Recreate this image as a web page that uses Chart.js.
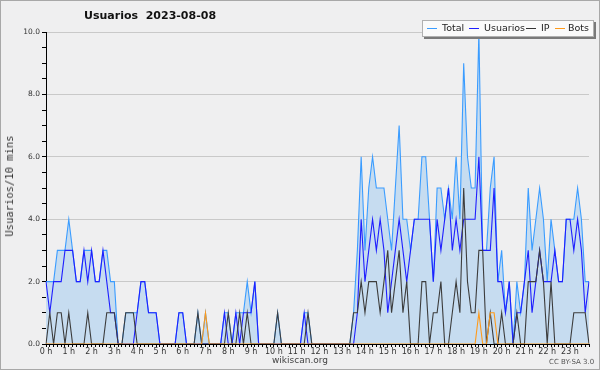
<!DOCTYPE html>
<html>
<head>
<meta charset="utf-8">
<script src="https://cdn.jsdelivr.net/npm/chart.js@4.4.0/dist/chart.umd.min.js"></script>
<style>
  html, body { margin: 0; padding: 0; background: #fff; }
  #wrap { position: relative; width: 600px; height: 370px; background: #efeff0; overflow: hidden; font-family: "DejaVu Sans", sans-serif; }
  #wrap canvas { position: absolute; left: 0; top: 0; }
  .frame { position: absolute; left: 0; top: 0; width: 600px; height: 370px; box-sizing: border-box; border: 1px solid #a8a8a8; pointer-events: none; }
  .title { position: absolute; left: 84px; top: 9px; font-weight: bold; font-size: 11px; color: #111; white-space: pre; }
  .ytitle { position: absolute; left: 9px; top: 186px; transform: translate(-50%, -50%) rotate(-90deg); font-family: "DejaVu Sans Mono", monospace; font-size: 10.5px; color: #333; white-space: nowrap; }
  .legend { position: absolute; left: 422px; top: 20px; width: 170px; height: 15px; background: #fafafa; border: 1px solid #b0b0b0; box-shadow: 2px 2px 0 #7a7a7a; font-size: 9.5px; color: #222; }
  .legend span { position: absolute; top: 1px; white-space: nowrap; }
  .legend i { position: absolute; top: 7px; width: 10px; height: 1px; }
  .foot { position: absolute; left: 0; width: 600px; top: 355px; text-align: center; font-size: 9px; color: #444; }
  .cc { position: absolute; left: 549px; top: 358px; font-size: 7px; color: #555; white-space: nowrap; }
</style>
</head>
<body>
<div id="wrap">
  <canvas id="chart" width="600" height="370"></canvas>
  <div class="title">Usuarios  2023-08-08</div>
  <div class="ytitle">Usuarios/10 mins</div>
  <div class="legend">
    <i style="left:4px;background:#3a9cff"></i><span style="left:19px">Total</span>
    <i style="left:46px;background:#1f1fff"></i><span style="left:61px">Usuarios</span>
    <i style="left:103px;background:#333"></i><span style="left:118px">IP</span>
    <i style="left:132px;background:#ff9a1a"></i><span style="left:145px">Bots</span>
  </div>
  <div class="foot">wikiscan.org</div>
  <div class="cc">CC BY-SA 3.0</div>
  <div class="frame"></div>
</div>
<script>
// one value per 10 minutes, 0:00 .. 23:50
const hours = [];
for (let h = 0; h < 24; h++) hours.push(h);
const slots = [];
hours.forEach(h => ['00', '10', '20', '30', '40', '50'].forEach(m => slots.push(h + ':' + m)));

const yTicks = [0, 2, 4, 6, 8, 10];

const total = [
  2,2,2,3,3,3,4,3,2,2,3,3,
  3,2,2,3,3,2,2,0,0,1,1,1,
  1,2,2,1,1,1,0,0,0,0,0,1,
  1,0,0,0,1,0,1,0,0,0,0,1,
  1,0,1,1,1,2,1,2,0,0,0,0,
  0,1,0,0,0,0,0,0,1,1,0,0,
  0,0,0,0,0,0,0,0,0,1,3,6,
  3,5,6,5,5,5,4,3,5,7,4,4,
  3,4,4,6,6,4,2,5,5,4,5,4,
  6,4,9,6,5,5,10,3,3,5,6,2,
  3,1,2,0,2,1,2,5,3,4,5,4,
  2,4,3,2,2,4,4,4,5,4,2,2
];
const usuarios = [
  2,1,2,2,2,3,3,3,2,2,3,2,
  3,2,2,3,2,1,1,0,0,0,0,0,
  1,2,2,1,1,1,0,0,0,0,0,1,
  1,0,0,0,0,0,0,0,0,0,0,1,
  0,0,1,0,1,1,1,2,0,0,0,0,
  0,0,0,0,0,0,0,0,1,0,0,0,
  0,0,0,0,0,0,0,0,0,0,1,4,
  2,3,4,3,4,3,1,2,3,4,3,2,
  3,4,4,4,4,4,2,4,3,4,5,3,
  4,3,4,4,4,4,6,3,3,3,5,2,
  2,1,2,0,1,1,2,3,1,2,3,2,
  2,2,3,2,2,4,4,3,4,3,1,2
];
const ip = [
  0,1,0,1,1,0,1,0,0,0,0,1,
  0,0,0,0,1,1,1,0,0,1,1,1,
  0,0,0,0,0,0,0,0,0,0,0,0,
  0,0,0,0,1,0,0,0,0,0,0,0,
  1,0,0,1,0,1,0,0,0,0,0,0,
  0,1,0,0,0,0,0,0,0,1,0,0,
  0,0,0,0,0,0,0,0,0,1,1,2,
  1,2,2,2,1,2,3,1,2,3,1,2,
  0,0,0,2,2,0,1,1,2,0,0,1,
  2,1,5,2,1,1,3,3,0,1,0,0,
  1,0,0,0,1,0,0,2,2,2,3,2,
  0,2,0,0,0,0,0,1,1,1,1,0
];
const bots = [
  0,0,0,0,0,0,0,0,0,0,0,0,
  0,0,0,0,0,0,0,0,0,0,0,0,
  0,0,0,0,0,0,0,0,0,0,0,0,
  0,0,0,0,0,0,1,0,0,0,0,0,
  0,0,0,0,0,0,0,0,0,0,0,0,
  0,0,0,0,0,0,0,0,0,0,0,0,
  0,0,0,0,0,0,0,0,0,0,0,0,
  0,0,0,0,0,0,0,0,0,0,0,0,
  0,0,0,0,0,0,0,0,0,0,0,0,
  0,0,0,0,0,0,1,0,0,1,1,0,
  0,0,0,0,0,0,0,0,0,0,0,0,
  0,0,0,0,0,0,0,0,0,0,0,0
];

const line = (label, data, color, order, extra) => Object.assign({
  label, data, order,
  borderColor: color,
  borderWidth: 1.1,
  pointRadius: 0,
  tension: 0,
  fill: false
}, extra || {});

new Chart(document.getElementById('chart'), {
  type: 'line',
  data: {
    labels: slots,
    datasets: [
      line('Total', total, '#3a9cff', 4, { fill: 'origin', backgroundColor: '#c6dcf0' }),
      line('Usuarios', usuarios, '#1f1fff', 3),
      line('IP', ip, '#3c3c3c', 2),
      line('Bots', bots, '#ff9a1a', 1)
    ]
  },
  options: {
    responsive: false,
    animation: false,
    events: [],
    layout: { padding: { left: 0, right: 11, top: 32, bottom: 0 } },
    plugins: { legend: { display: false }, tooltip: { enabled: false } },
    scales: {
      x: {
        offset: false,
        border: { color: '#000', width: 1 },
        grid: { drawOnChartArea: false, tickLength: 3, tickColor: '#000' },
        ticks: {
          autoSkip: false, maxRotation: 0, padding: 0,
          font: { family: 'DejaVu Sans', size: 8 }, color: '#333',
          callback: (v, i) => i % 6 === 0 ? hours[i / 6] + ' h' : ''
        },
        afterFit: s => { s.height = 26; }
      },
      y: {
        min: 0, max: 10,
        border: { color: '#000', width: 1 },
        grid: {
          tickLength: 4, tickColor: '#000',
          color: c => (c.tick && c.tick.value > 0 && yTicks.includes(c.tick.value)) ? '#c9c9c9' : 'rgba(0,0,0,0)'
        },
        ticks: {
          stepSize: 0.5, maxTicksLimit: 30, autoSkip: false, padding: 2,
          font: { family: 'DejaVu Sans', size: 7.5 }, color: '#333',
          callback: v => yTicks.includes(v) ? v.toFixed(1) : ''
        },
        afterFit: s => { s.width = 46; }
      }
    }
  }
});
</script>
</body>
</html>
